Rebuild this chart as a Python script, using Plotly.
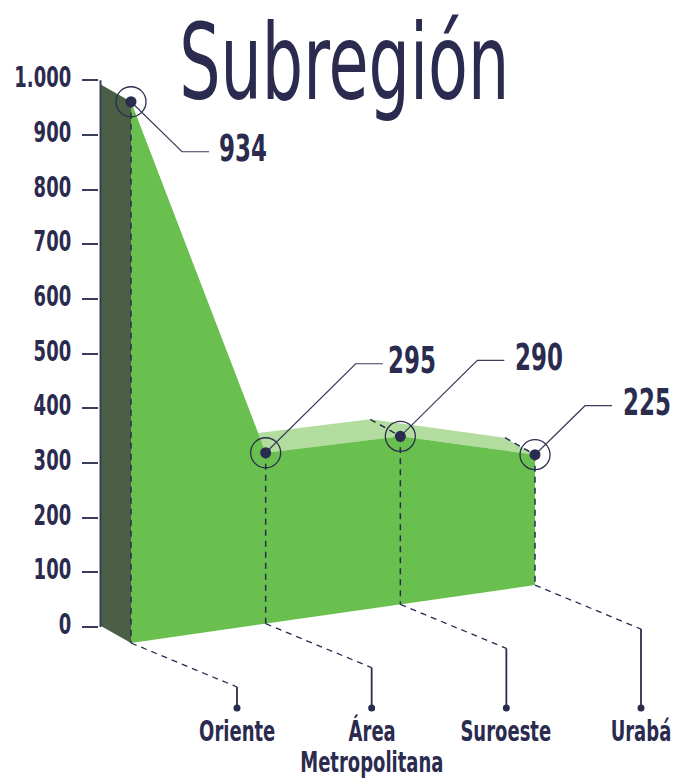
import json
import plotly.graph_objects as go

# ---------------- data ----------------
categories = ["Oriente", "Área Metropolitana", "Suroeste", "Urabá"]
values = [934, 295, 290, 225]
value_labels = ["934", "295", "290", "225"]
tick_values = [0, 100, 200, 300, 400, 500, 600, 700, 800, 900, 1000]
tick_labels = ["0", "100", "200", "300", "400", "500", "600", "700", "800", "900", "1.000"]
title_text = "Subregión"

# ---------------- layout / geometry ----------------
W, H = 679, 781
X0_PX = 131.0        # pixel x of first category
STEP_PX = 134.67     # pixel distance between categories
PLOT_L = 99          # left edge of plot area
Y0_PX = 627.0        # pixel y of value 0
PX_PER_UNIT = 0.5467


def ux(px):
    return px / STEP_PX


def uy(px):
    return px / PX_PER_UNIT


x_range = [(PLOT_L - X0_PX) / STEP_PX, (W - X0_PX) / STEP_PX]
y_range = [-(H - Y0_PX) / PX_PER_UNIT, Y0_PX / PX_PER_UNIT]

HEIGHT_SCALE = 1.06          # pseudo-3D projection of heights
BASE0 = -uy(16)              # front baseline at first category
BASE_SLOPE = uy(19.3)        # perspective rise of baseline per category
DEPTH_X = ux(30)
DEPTH_Y = uy(17)

NAVY = "#2a2b4e"
LINE = "#3a3c5c"
WALL = "#4a5f45"
FRONT = "#69c04f"
TOP = "#b3dc9f"
FONT = "DejaVu Sans Condensed, DejaVu Sans, sans-serif"
DASH = "6px,5px"
SQUEEZE = 0.69               # horizontal compression to mimic a condensed face

# per-label leader offsets (pixels): diagonal dx, dy, horizontal length, text gap
leader_offsets = [(51, 50, 27, 8), (90, -89, 27, 3), (77, -76, 27, 9), (50, -49, 27, 9)]
CAT_DX, CAT_DY = 106, 44     # dashed leader from baseline to category label
CAT_DOT_PX = 708
CAT_LINE1_PX = 731           # centre of first label line
CAT_LINE_GAP = 31
TITLE_CX_PX, TITLE_CY_PX = 343.5, 63

xs = list(range(len(values)))
base = [BASE0 + BASE_SLOPE * i for i in xs]
tops = [b + HEIGHT_SCALE * v for b, v in zip(base, values)]
back_x = [x - DEPTH_X for x in xs]
back_y = [t + DEPTH_Y for t in tops]

fig = go.Figure()

# top face (light)
fig.add_trace(go.Scatter(
    x=back_x + xs[::-1], y=back_y + tops[::-1], fill="toself", fillcolor=TOP,
    mode="lines", line=dict(width=0, color=TOP), hoverinfo="skip"))
# left wall (dark)
fig.add_trace(go.Scatter(
    x=[back_x[0], xs[0], xs[0], back_x[0]],
    y=[back_y[0], tops[0], base[0], base[0] + DEPTH_Y],
    fill="toself", fillcolor=WALL, mode="lines", line=dict(width=0, color=WALL),
    hoverinfo="skip"))
# front face
fig.add_trace(go.Scatter(
    x=xs + xs[::-1], y=tops + base[::-1], fill="toself", fillcolor=FRONT,
    mode="lines", line=dict(width=0, color=FRONT), hoverinfo="skip"))

# axis line
ax_x = (100.5 - X0_PX) / STEP_PX
fig.add_trace(go.Scatter(x=[ax_x, ax_x], y=[0, 1000], mode="lines",
                         line=dict(color=LINE, width=2), hoverinfo="skip"))

# vertical dashed drop lines
vx, vy = [], []
for i in xs:
    vx += [i, i, None]
    vy += [tops[i], base[i], None]
# depth edges visible at the back
for i in xs[2:]:
    vx += [back_x[i], i, None]
    vy += [back_y[i], tops[i], None]
fig.add_trace(go.Scatter(x=vx, y=vy, mode="lines",
                         line=dict(color=NAVY, width=1.5, dash=DASH), hoverinfo="skip"))

# category leader lines
dx_, dy_ = [], []
sx, sy = [], []
dot_x, dot_y = [], []
y_dot = -uy(CAT_DOT_PX - Y0_PX)
for i in xs:
    ex = i + ux(CAT_DX)
    ey = base[i] - uy(CAT_DY)
    dx_ += [i, ex, None]
    dy_ += [base[i], ey, None]
    sx += [ex, ex, None]
    sy += [ey, y_dot, None]
    dot_x.append(ex)
    dot_y.append(y_dot)
fig.add_trace(go.Scatter(x=dx_, y=dy_, mode="lines",
                         line=dict(color=NAVY, width=1.3, dash=DASH), hoverinfo="skip"))
fig.add_trace(go.Scatter(x=sx, y=sy, mode="lines",
                         line=dict(color=NAVY, width=1.8), hoverinfo="skip"))
fig.add_trace(go.Scatter(x=dot_x, y=dot_y, mode="markers", cliponaxis=False,
                         marker=dict(color=NAVY, size=7), hoverinfo="skip"))

# value leader lines
lx, ly = [], []
label_pos = []
for i in xs:
    ddx, ddy, hl, gap = leader_offsets[i]
    ex = i + ux(ddx)
    ey = tops[i] - uy(ddy)
    hx = ex + ux(hl)
    lx += [i, ex, hx, None]
    ly += [tops[i], ey, ey, None]
    label_pos.append((hx + ux(gap), ey + uy(3)))
fig.add_trace(go.Scatter(x=lx, y=ly, mode="lines",
                         line=dict(color=LINE, width=1.2), hoverinfo="skip"))

# point markers: ring + dot
fig.add_trace(go.Scatter(x=xs, y=tops, mode="markers", cliponaxis=False,
                         marker=dict(size=30, color="rgba(0,0,0,0)",
                                     line=dict(color=NAVY, width=1.3)),
                         hoverinfo="skip"))
fig.add_trace(go.Scatter(x=xs, y=tops, mode="markers", cliponaxis=False,
                         marker=dict(size=11, color=NAVY), hoverinfo="skip"))

annotations = []
squeeze_modes = []
for (px_, py_), txt in zip(label_pos, value_labels):
    annotations.append(dict(x=px_, y=py_, xref="x", yref="y", text=txt,
                            showarrow=False, xanchor="left", yanchor="middle",
                            font=dict(family=FONT, size=37, color=NAVY, weight="bold")))
    squeeze_modes.append("left")
for i, cat in enumerate(categories):
    for j, part in enumerate(cat.split(" ")):
        yc = -uy(CAT_LINE1_PX + j * CAT_LINE_GAP - Y0_PX)
        annotations.append(dict(x=dot_x[i], y=yc, xref="x", yref="y",
                                text=part, showarrow=False,
                                xanchor="center", yanchor="middle",
                                font=dict(family=FONT, size=29, color=NAVY, weight="bold")))
        squeeze_modes.append("center")
annotations.append(dict(x=(TITLE_CX_PX - PLOT_L) / (W - PLOT_L), y=1 - TITLE_CY_PX / H,
                        xref="paper", yref="paper",
                        text=title_text, showarrow=False, xanchor="center",
                        yanchor="middle",
                        font=dict(family=FONT, size=105, color=NAVY)))
squeeze_modes.append("center")

fig.update_layout(
    width=W, height=H,
    margin=dict(l=PLOT_L, r=0, t=0, b=0, pad=0),
    paper_bgcolor="white", plot_bgcolor="white",
    showlegend=False,
    annotations=annotations,
    xaxis=dict(range=x_range, visible=False, fixedrange=True),
    yaxis=dict(range=y_range, tickvals=tick_values, ticktext=tick_labels,
               showgrid=False, zeroline=False, showline=False,
               ticks="outside", ticklen=16, tickwidth=1.5, tickcolor=LINE,
               ticklabelstandoff=5, ticklabelshift=-3,
               tickfont=dict(family=FONT, size=29, color=NAVY, weight="bold"),
               automargin=False, fixedrange=True),
)

post = """
document.body.style.margin = '0px';
var modes = %s;
var sq = %s;
function squeeze(el, mode) {
  var bb = el.getBBox();
  var ax = mode === 'left' ? bb.x : (mode === 'right' ? bb.x + bb.width : bb.x + bb.width / 2);
  var t = el.getAttribute('transform') || '';
  el.setAttribute('transform', t + ' translate(' + ax + ',0) scale(' + sq + ',1) translate(' + (-ax) + ',0)');
}
document.querySelectorAll('g.annotation').forEach(function (g) {
  var idx = parseInt(g.getAttribute('data-index'));
  var txt = g.querySelector('text.annotation-text');
  if (txt) { squeeze(txt, modes[idx] || 'center'); }
});
document.querySelectorAll('g.ytick text').forEach(function (el) { squeeze(el, 'right'); });
""" % (json.dumps(squeeze_modes), SQUEEZE)

fig.write_html("out.html", post_script=post, config={"displayModeBar": False})
